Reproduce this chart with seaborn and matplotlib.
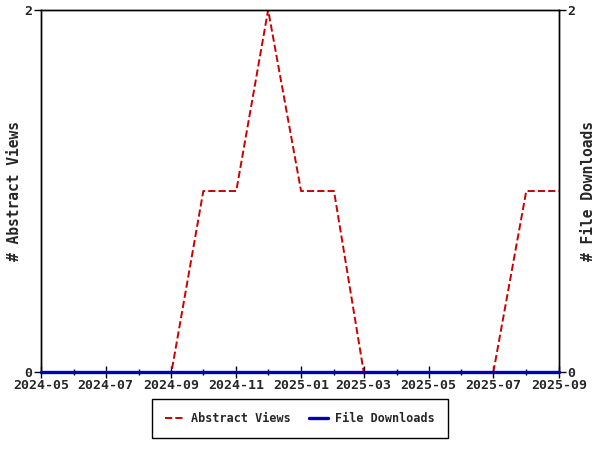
import numpy as np
import pandas as pd
import seaborn as sns
import matplotlib
matplotlib.use("Agg")
import matplotlib.pyplot as plt
import matplotlib.dates as mdates

# monthly counts
months = pd.date_range("2024-05-01", "2025-09-01", freq="MS")
abstract_views = [0, 0, 0, 0, 0, 1, 1, 2, 1, 1, 0, 0, 0, 0, 0, 1, 1]
file_downloads = [0] * 17

df = pd.DataFrame({"month": months, "views": abstract_views, "downloads": file_downloads})

sns.set_style("white")
plt.rcParams["font.family"] = ["DejaVu Sans Mono"]
plt.rcParams["font.weight"] = "bold"
plt.rcParams["font.size"] = 9.5

fig = plt.figure(figsize=(6, 4.5), dpi=100)
ax = fig.add_axes([0.068, 0.173, 0.864, 0.805])
ax2 = ax.twinx()

sns.lineplot(data=df, x="month", y="views", ax=ax, color="#cc0000",
             linestyle="--", linewidth=1.4, label="Abstract Views", legend=False)
sns.lineplot(data=df, x="month", y="downloads", ax=ax2, color="#0000b4",
             linewidth=2.4, label="File Downloads", legend=False)
for ln in ax2.get_lines():
    ln.set_clip_on(False)
    ln.set_zorder(5)

for a in (ax, ax2):
    a.set_ylim(0, 2)
    a.set_yticks([0, 2])
    a.set_xlim(months[0], months[-1])
    for s in a.spines.values():
        s.set_color("black")
        s.set_linewidth(1)

ax.xaxis.set_major_locator(mdates.MonthLocator(interval=2))
ax.xaxis.set_minor_locator(mdates.MonthLocator())
ax.xaxis.set_major_formatter(mdates.DateFormatter("%Y-%m"))
ax.tick_params(axis="x", which="major", bottom=True, direction="inout",
               length=8, width=1, pad=1, color="black")
ax.tick_params(axis="x", which="minor", bottom=True, direction="inout",
               length=5, width=1, color="black")
ax.tick_params(axis="y", left=True, direction="out", length=5, width=1, pad=1, color="black")
ax2.tick_params(axis="y", right=True, direction="out", length=5, width=1, pad=1, color="black")

ax.set_xlabel("")
ax.set_ylabel("# Abstract Views", fontsize=10.5, fontweight="bold")
ax2.set_ylabel("# File Downloads", fontsize=10.5, fontweight="bold")
ax.yaxis.set_label_coords(-0.036, 0.5)
ax2.yaxis.set_label_coords(1.043, 0.5)

h1, l1 = ax.get_legend_handles_labels()
h2, l2 = ax2.get_legend_handles_labels()
leg = fig.legend(h1 + h2, l1 + l2, loc="center", bbox_to_anchor=(0.5, 0.07),
                 ncol=2, frameon=True, fancybox=False, framealpha=1,
                 edgecolor="black", borderpad=1.1, handlelength=1.6,
                 handletextpad=0.6, columnspacing=1.6, fontsize=8.5)
leg.get_frame().set_linewidth(1)

fig.savefig("out.png", dpi=100)
